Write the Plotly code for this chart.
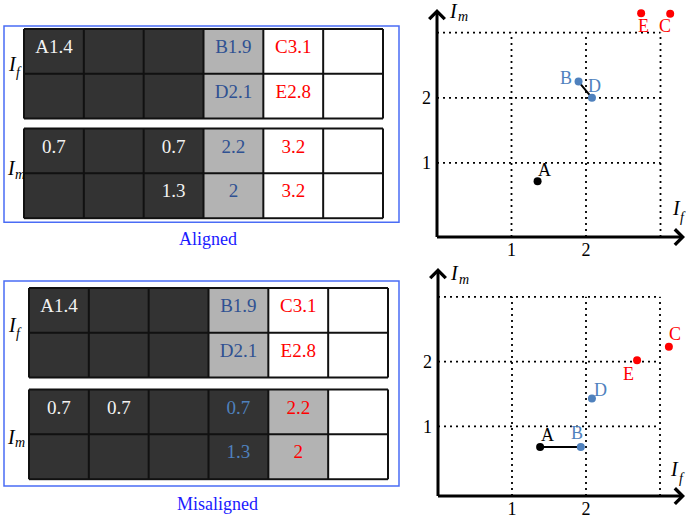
import plotly.graph_objects as go

W, H = 686, 519
SERIF = "Liberation Serif, Times New Roman, serif"

# ---------------- data ----------------
n_cols = 6
row_ids = [0, 1]

# cell shading codes: 0 = dark, 1 = grey, 2 = white
aligned_if_shade = [[0, 0, 0, 1, 2, 2], [0, 0, 0, 1, 2, 2]]
aligned_im_shade = [[0, 0, 0, 1, 2, 2], [0, 0, 0, 1, 2, 2]]
misaligned_if_shade = [[0, 0, 0, 1, 2, 2], [0, 0, 0, 1, 2, 2]]
misaligned_im_shade = [[0, 0, 0, 0, 1, 2], [0, 0, 0, 0, 1, 2]]

aligned_if_text = [["A1.4", "", "", "B1.9", "C3.1", ""], ["", "", "", "D2.1", "E2.8", ""]]
aligned_im_text = [["0.7", "", "0.7", "2.2", "3.2", ""], ["", "", "1.3", "2", "3.2", ""]]
misaligned_if_text = [["A1.4", "", "", "B1.9", "C3.1", ""], ["", "", "", "D2.1", "E2.8", ""]]
misaligned_im_text = [["0.7", "0.7", "", "0.7", "2.2", ""], ["", "", "", "1.3", "2", ""]]

# text colour codes: w = light, n = navy, b = blue, r = red
aligned_if_tc = [["w", "", "", "n", "r", ""], ["", "", "", "n", "r", ""]]
aligned_im_tc = [["w", "", "w", "n", "r", ""], ["", "", "w", "n", "r", ""]]
misaligned_if_tc = [["w", "", "", "n", "r", ""], ["", "", "", "n", "r", ""]]
misaligned_im_tc = [["w", "w", "", "b", "r", ""], ["", "", "", "b", "r", ""]]

# scatter points (I_f, I_m)
point_names = ["A", "B", "C", "D", "E"]
aligned_if_pts = [1.35, 1.9, 3.13, 2.08, 2.74]
aligned_im_pts = [0.72, 2.25, 3.29, 2.0, 3.3]
misaligned_if_pts = [1.38, 1.93, 3.12, 2.08, 2.69]
misaligned_im_pts = [0.68, 0.68, 2.23, 1.43, 2.02]
aligned_link = ["B", "D"]
misaligned_link = ["A", "B"]

grid_vals = [1, 2, 3]
tick_vals = [1, 2]
tick_text = ["1", "2"]

# ---------------- styling ----------------
SHADE_SCALE = [[0.0, "#333333"], [0.5, "#b3b3b3"], [1.0, "#ffffff"]]
TEXT_COLORS = {"w": "#f2f2f2", "n": "#2f5192", "b": "#4f81bd", "r": "#ff0000", "": "#000000"}
POINT_COLORS = {"A": "#000000", "B": "#4f81bd", "D": "#4f81bd", "C": "#ff0000", "E": "#ff0000"}
BOX_BLUE = "#4a6cf5"
TITLE_BLUE = "#1a1aff"


def px_x(p):
    return p / W


def px_y(p):
    return 1 - p / H


fig = go.Figure()
layout = dict(
    width=W, height=H, margin=dict(l=0, r=0, t=0, b=0),
    paper_bgcolor="white", plot_bgcolor="white", showlegend=False,
    shapes=[], annotations=[],
)


def paper_text(text, x, y, size, color="black", xanchor="center"):
    layout["annotations"].append(dict(
        text=text, x=px_x(x), y=px_y(y),
        xref="paper", yref="paper", xanchor=xanchor, yanchor="middle",
        showarrow=False, borderpad=0, font=dict(family=SERIF, size=size, color=color)))


def symbol(sub, i_pos, sub_pos):
    """Italic I followed by a smaller, lowered italic letter."""
    paper_text("<i>I</i>", i_pos[0], i_pos[1], 20)
    paper_text(f"<i>{sub}</i>", sub_pos[0], sub_pos[1], 14, xanchor="left")


# table panels: (axis index, pixel box left, right, top, bottom, shade, text, colours)
tables = [
    (1, 24, 383, 29, 119, aligned_if_shade, aligned_if_text, aligned_if_tc),
    (2, 24, 383, 129, 219, aligned_im_shade, aligned_im_text, aligned_im_tc),
    (3, 29, 388, 289, 379, misaligned_if_shade, misaligned_if_text, misaligned_if_tc),
    (4, 29, 388, 391, 481, misaligned_im_shade, misaligned_im_text, misaligned_im_tc),
]
PAD = 1.5
for idx, left, right, top, bottom, shade, text, tcol in tables:
    xa = "x" if idx == 1 else f"x{idx}"
    ya = "y" if idx == 1 else f"y{idx}"
    cw = (right - left) / n_cols
    rh = (bottom - top) / len(row_ids)
    layout["xaxis" if idx == 1 else f"xaxis{idx}"] = dict(
        domain=[px_x(left - PAD), px_x(right + PAD)],
        range=[-PAD / cw, n_cols + PAD / cw], visible=False, anchor=ya, fixedrange=True)
    layout["yaxis" if idx == 1 else f"yaxis{idx}"] = dict(
        domain=[px_y(bottom + PAD), px_y(top - PAD)],
        range=[len(row_ids) + PAD / rh, -PAD / rh], visible=False, anchor=xa, fixedrange=True)
    fig.add_trace(go.Heatmap(
        z=shade, x=[c + 0.5 for c in range(n_cols)], y=[r + 0.5 for r in row_ids],
        colorscale=SHADE_SCALE, zmin=0, zmax=2, showscale=False, hoverinfo="skip",
        xaxis=xa, yaxis=ya))
    tx, ty, tt, tc = [], [], [], []
    for r in row_ids:
        for c in range(n_cols):
            if text[r][c]:
                tx.append(c + 0.5)
                ty.append(r + 0.43)
                tt.append(text[r][c])
                tc.append(TEXT_COLORS[tcol[r][c]])
    fig.add_trace(go.Scatter(
        x=tx, y=ty, text=tt, mode="text", textposition="middle center",
        textfont=dict(family=SERIF, size=19, color=tc), hoverinfo="skip",
        cliponaxis=False, xaxis=xa, yaxis=ya))
    for c in range(n_cols + 1):
        layout["shapes"].append(dict(type="line", xref=xa, yref=ya, x0=c, x1=c, y0=0,
                                     y1=len(row_ids), line=dict(color="#111111", width=2)))
    for r in range(len(row_ids) + 1):
        layout["shapes"].append(dict(type="line", xref=xa, yref=ya, x0=0, x1=n_cols, y0=r,
                                     y1=r, line=dict(color="#111111", width=2)))

# blue frames around each table pair and their captions
for (l, t, r, b), caption, (cx, cy) in [
    ((4, 26, 399, 223), "Aligned", (208, 240)),
    ((4, 282, 399, 488), "Misaligned", (217, 506)),
]:
    layout["shapes"].append(dict(type="rect", xref="paper", yref="paper",
                                 x0=px_x(l), x1=px_x(r), y0=px_y(b), y1=px_y(t),
                                 line=dict(color=BOX_BLUE, width=1.5)))
    paper_text(caption, cx, cy, 18, color=TITLE_BLUE)

# row-group labels beside the tables
symbol("f", (12, 64), (15, 73))
symbol("m", (11, 169), (14, 175))
symbol("f", (12, 326), (15, 335))
symbol("m", (11, 439), (14, 444))

# scatter panels
scatters = [
    dict(idx=5, left=437, right=686, top=5, bottom=238, ox=437, oy=229, ux=74.5, uy=65.4,
         xs=aligned_if_pts, ys=aligned_im_pts, link=aligned_link,
         offsets={"A": (7, -11), "B": (-13, -4), "C": (-5, 12), "D": (3, -12), "E": (2, 13)},
         im_pos=((453, 11), (457, 17)), if_pos=((676, 209), (679, 218))),
    dict(idx=6, left=438, right=686, top=265, bottom=498, ox=438, oy=493, ux=74.0, uy=65.0,
         xs=misaligned_if_pts, ys=misaligned_im_pts, link=misaligned_link,
         offsets={"A": (7, -12), "B": (-4, -14), "C": (6, -13), "D": (9, -9), "E": (-9, 14)},
         im_pos=((454, 274), (458, 281)), if_pos=((674, 471), (678, 480))),
]
for s in scatters:
    idx = s["idx"]
    xa, ya = f"x{idx}", f"y{idx}"
    ox, oy, ux, uy = s["ox"], s["oy"], s["ux"], s["uy"]
    x_lo = (s["left"] - ox) / ux
    x_hi = (s["right"] - ox) / ux
    y_lo = (oy - s["bottom"]) / uy
    y_hi = (oy - s["top"]) / uy
    layout[f"xaxis{idx}"] = dict(
        domain=[px_x(s["left"]), px_x(s["right"])], range=[x_lo, x_hi], anchor=ya,
        showgrid=False, zeroline=False, showline=False, ticks="",
        tickvals=tick_vals, ticktext=tick_text, ticklabelstandoff=0,
        tickfont=dict(family=SERIF, size=18, color="black"), fixedrange=True)
    layout[f"yaxis{idx}"] = dict(
        domain=[px_y(s["bottom"]), px_y(s["top"])], range=[y_lo, y_hi], anchor=xa,
        showgrid=False, zeroline=False, showline=False, ticks="",
        tickvals=tick_vals, ticktext=tick_text, ticklabelstandoff=5,
        tickfont=dict(family=SERIF, size=18, color="black"), fixedrange=True)

    # dotted reference grid
    gx, gy = [], []
    for g in grid_vals:
        gx += [g, g, None]
        gy += [y_lo, max(grid_vals), None]
        gx += [0, max(grid_vals), None]
        gy += [g, g, None]
    fig.add_trace(go.Scatter(x=gx, y=gy, mode="lines", hoverinfo="skip",
                             line=dict(color="black", width=1.8, dash="2px,4px"),
                             xaxis=xa, yaxis=ya))

    # axes with arrow heads
    layout["annotations"].append(dict(
        x=(685 - ox) / ux, y=y_lo, ax=x_lo - 0.02, ay=y_lo, xref=xa, yref=ya, axref=xa,
        ayref=ya, text="", showarrow=True, arrowhead=4, arrowsize=1, arrowwidth=3,
        arrowcolor="black"))
    layout["annotations"].append(dict(
        x=0, y=(oy - (s["top"] + 4)) / uy, ax=0, ay=y_lo - 0.02, xref=xa, yref=ya, axref=xa,
        ayref=ya, text="", showarrow=True, arrowhead=4, arrowsize=1, arrowwidth=3,
        arrowcolor="black"))

    # axis names
    symbol("m", *s["im_pos"])
    symbol("f", *s["if_pos"])

    # connecting segment
    xs, ys, link = s["xs"], s["ys"], s["link"]
    i0, i1 = point_names.index(link[0]), point_names.index(link[1])
    fig.add_trace(go.Scatter(x=[xs[i0], xs[i1]], y=[ys[i0], ys[i1]], mode="lines",
                             line=dict(color="black", width=2), hoverinfo="skip",
                             xaxis=xa, yaxis=ya))

    # points
    fig.add_trace(go.Scatter(
        x=xs, y=ys, mode="markers",
        marker=dict(size=8, color=[POINT_COLORS[n] for n in point_names]),
        cliponaxis=False, hoverinfo="skip", xaxis=xa, yaxis=ya))

    # letter labels next to each point
    for n, xv, yv in zip(point_names, xs, ys):
        dx, dy = s["offsets"][n]
        layout["annotations"].append(dict(
            text=n, x=xv, y=yv, xref=xa, yref=ya, xshift=dx, yshift=-dy,
            xanchor="center", yanchor="middle", showarrow=False,
            font=dict(family=SERIF, size=18, color=POINT_COLORS[n])))

fig.update_layout(**layout)
fig.write_html("out.html")
